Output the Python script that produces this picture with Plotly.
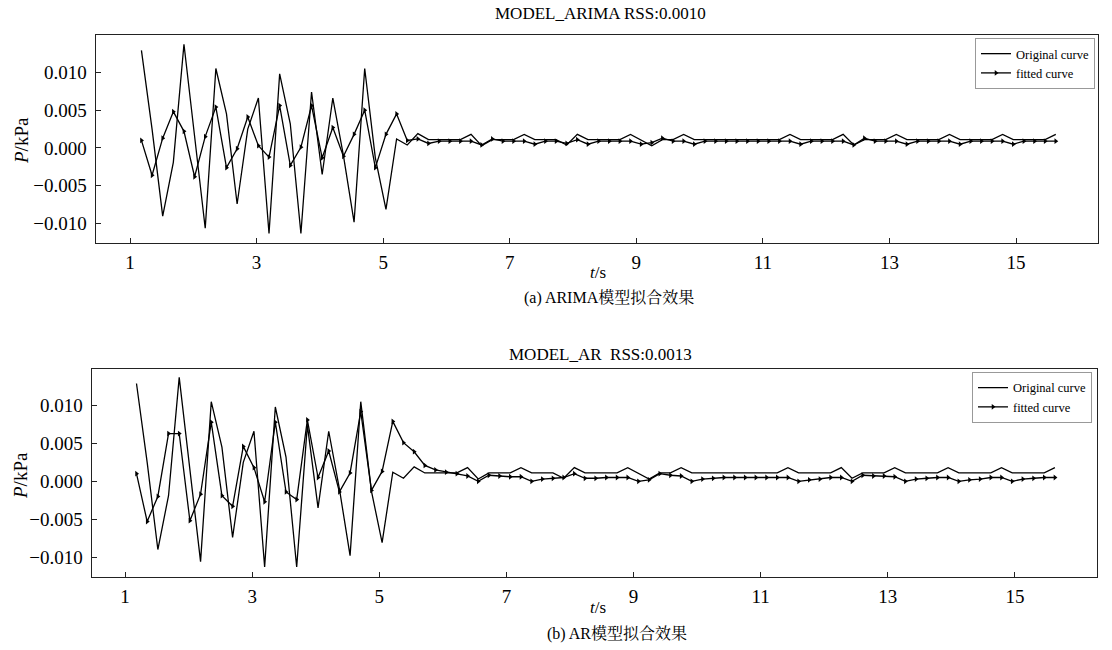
import plotly.graph_objects as go

# sampling times (s)
t = [1.180, 1.348, 1.516, 1.684, 1.852, 2.020, 2.188, 2.356, 2.524, 2.692,
     2.860, 3.028, 3.196, 3.364, 3.532, 3.700, 3.868, 4.036, 4.204, 4.372,
     4.540, 4.708, 4.876, 5.044, 5.212, 5.380, 5.548, 5.716, 5.884, 6.052,
     6.220, 6.388, 6.556, 6.724, 6.892, 7.060, 7.228, 7.396, 7.564, 7.732,
     7.900, 8.068, 8.236, 8.404, 8.572, 8.740, 8.908, 9.076, 9.244, 9.412,
     9.580, 9.748, 9.916, 10.084, 10.252, 10.420, 10.588, 10.756, 10.924, 11.092,
     11.260, 11.428, 11.596, 11.764, 11.932, 12.100, 12.268, 12.436, 12.604, 12.772,
     12.940, 13.108, 13.276, 13.444, 13.612, 13.780, 13.948, 14.116, 14.284, 14.452,
     14.620, 14.788, 14.956, 15.124, 15.292, 15.460, 15.628]

original = [0.0129, 0.0025, -0.0090, -0.0019, 0.0137, 0.0015, -0.0106, 0.0105, 0.0045, -0.0074,
            0.0025, 0.0066, -0.0113, 0.0098, 0.0032, -0.0113, 0.0074, -0.0035, 0.0066, -0.0010,
            -0.0098, 0.0105, -0.0013, -0.0081, 0.0012, 0.0004, 0.0019,
            0.0011, 0.0011, 0.0011, 0.0011, 0.0018, 0.0003, 0.0011, 0.0011, 0.0011, 0.0018,
            0.0011, 0.0011, 0.0011, 0.0004, 0.0018, 0.0011, 0.0011, 0.0011, 0.0011, 0.0018,
            0.0011, 0.0003, 0.0011, 0.0011, 0.0018, 0.0011, 0.0011, 0.0011, 0.0011, 0.0011,
            0.0011, 0.0011, 0.0011, 0.0011, 0.0018, 0.0011, 0.0011, 0.0011, 0.0011, 0.0018,
            0.0004, 0.0011, 0.0011, 0.0011, 0.0018, 0.0011, 0.0011, 0.0011, 0.0011, 0.0018,
            0.0011, 0.0011, 0.0011, 0.0011, 0.0018, 0.0011, 0.0011, 0.0011, 0.0011, 0.0018]

fitted_arima = [0.0010, -0.0036, 0.0013, 0.0048, 0.0022, -0.0038, 0.0015, 0.0054, -0.0026, -0.0001,
                0.0041, 0.0003, -0.0012, 0.0056, -0.0023, 0.0001, 0.0056, -0.0013, 0.0027, -0.0011,
                0.0018, 0.0050, -0.0026, 0.0018, 0.0045, 0.0010, 0.0012,
                0.0006, 0.0009, 0.0009, 0.0009, 0.0009, 0.0004, 0.0012, 0.0009, 0.0009, 0.0009,
                0.0005, 0.0009, 0.0009, 0.0006, 0.0011, 0.0005, 0.0009, 0.0009, 0.0009, 0.0009,
                0.0005, 0.0007, 0.0013, 0.0009, 0.0009, 0.0005, 0.0009, 0.0009, 0.0009, 0.0009,
                0.0009, 0.0009, 0.0009, 0.0009, 0.0009, 0.0005, 0.0009, 0.0009, 0.0009, 0.0009,
                0.0004, 0.0013, 0.0009, 0.0009, 0.0009, 0.0005, 0.0009, 0.0009, 0.0009, 0.0009,
                0.0005, 0.0009, 0.0009, 0.0009, 0.0009, 0.0005, 0.0009, 0.0009, 0.0009, 0.0009]

fitted_ar = [0.0010, -0.0053, -0.0020, 0.0063, 0.0063, -0.0052, -0.0017, 0.0078, -0.0019, -0.0033,
             0.0046, 0.0018, -0.0027, 0.0078, -0.0014, -0.0024, 0.0081, 0.0005, 0.0040, -0.0014,
             0.0011, 0.0092, -0.0012, 0.0013, 0.0079, 0.0051, 0.0039,
             0.0021, 0.0015, 0.0012, 0.0010, 0.0007, 0.0000, 0.0008, 0.0007, 0.0006, 0.0006,
             0.0000, 0.0003, 0.0004, 0.0005, 0.0010, 0.0004, 0.0004, 0.0005, 0.0005, 0.0005,
             0.0000, 0.0002, 0.0010, 0.0008, 0.0007, 0.0000, 0.0003, 0.0004, 0.0005, 0.0005,
             0.0005, 0.0005, 0.0005, 0.0005, 0.0005, 0.0000, 0.0002, 0.0003, 0.0005, 0.0005,
             0.0000, 0.0008, 0.0007, 0.0007, 0.0006, 0.0000, 0.0003, 0.0004, 0.0005, 0.0005,
             0.0000, 0.0002, 0.0003, 0.0005, 0.0005, 0.0000, 0.0003, 0.0004, 0.0005, 0.0005]

x_ticks = [1, 3, 5, 7, 9, 11, 13, 15]
y_ticks = [-0.010, -0.005, 0.000, 0.005, 0.010]

title_a = "MODEL_ARIMA RSS:0.0010"
title_b = "MODEL_AR  RSS:0.0013"
caption_a = "(a) ARIMA模型拟合效果"
caption_b = "(b) AR模型拟合效果"
series_names = ["Original curve", "fitted curve"]

SERIF = "Liberation Serif, Times New Roman, Noto Serif CJK SC, Noto Sans CJK SC, serif"
LINE = dict(color="black", width=1.3)
MARK = dict(symbol="triangle-right", size=5, color="black")

fig = go.Figure()
fig.add_trace(go.Scatter(x=t, y=original, mode="lines", line=LINE, name=series_names[0],
                         xaxis="x", yaxis="y", legend="legend"))
fig.add_trace(go.Scatter(x=t, y=fitted_arima, mode="lines+markers", line=LINE, marker=MARK,
                         name=series_names[1], xaxis="x", yaxis="y", legend="legend"))
fig.add_trace(go.Scatter(x=t, y=original, mode="lines", line=LINE, name=series_names[0],
                         xaxis="x2", yaxis="y2", legend="legend2"))
fig.add_trace(go.Scatter(x=t, y=fitted_ar, mode="lines+markers", line=LINE, marker=MARK,
                         name=series_names[1], xaxis="x2", yaxis="y2", legend="legend2"))

axis_common = dict(showline=True, linecolor="#222", linewidth=1.3, mirror=True,
                   showgrid=False, zeroline=False, ticks="inside", ticklen=5,
                   tickcolor="#222", automargin=False,
                   tickfont=dict(family=SERIF, size=19, color="black"))

legend_common = dict(xanchor="right", yanchor="top", bgcolor="white",
                     bordercolor="#999", borderwidth=1,
                     font=dict(family=SERIF, size=12.5, color="black"),
                     itemwidth=30, tracegroupgap=0)

fig.update_layout(
    width=1112, height=650,
    margin=dict(l=0, r=0, t=0, b=0, pad=0),
    paper_bgcolor="white", plot_bgcolor="white",
    font=dict(family=SERIF, color="black"),
    xaxis=dict(domain=[0.0861, 0.9874], range=[0.458, 16.295], tickvals=x_ticks,
               anchor="y", ticklabelstandoff=2, **axis_common),
    yaxis=dict(domain=[0.6257, 0.9462], range=[-0.01259, 0.01493], tickvals=y_ticks,
               tickformat=".3f", anchor="x", ticklabelstandoff=4, **axis_common),
    xaxis2=dict(domain=[0.0825, 0.9865], range=[0.476, 16.29], tickvals=x_ticks,
                anchor="y2", ticklabelstandoff=2, **axis_common),
    yaxis2=dict(domain=[0.1128, 0.4323], range=[-0.01258, 0.01481], tickvals=y_ticks,
                tickformat=".3f", anchor="x2", ticklabelstandoff=4, **axis_common),
    legend=dict(x=0.9847, y=0.9415, **legend_common),
    legend2=dict(x=0.982, y=0.4277, **legend_common),
    showlegend=True,
)

ann_font = dict(family=SERIF, size=17, color="black")
cap_font = dict(family=SERIF, size=16, color="black")
lab_font = dict(family=SERIF, size=19, color="black")
annotations = [
    dict(text=title_a, x=600 / 1112, y=1 - 13 / 650, font=ann_font),
    dict(text=title_b, x=600 / 1112, y=1 - 355 / 650, font=ann_font),
    dict(text="<i>t</i>/s", x=598 / 1112, y=1 - 272 / 650, font=ann_font),
    dict(text="<i>t</i>/s", x=598 / 1112, y=1 - 607 / 650, font=ann_font),
    dict(text=caption_a, x=609 / 1112, y=1 - 297 / 650, font=cap_font),
    dict(text=caption_b, x=617 / 1112, y=1 - 633 / 650, font=cap_font),
    dict(text="<i>P</i>/kPa", x=22 / 1112, y=1 - 141 / 650, textangle=-90, font=lab_font),
    dict(text="<i>P</i>/kPa", x=20 / 1112, y=1 - 476 / 650, textangle=-90, font=lab_font),
]
for a in annotations:
    fig.add_annotation(xref="paper", yref="paper", showarrow=False,
                       xanchor="center", yanchor="middle", **a)

fig.write_html("out.html",
               config={"displayModeBar": False},
               post_script="document.body.style.margin='0';"
                           "document.body.style.overflow='hidden';")
